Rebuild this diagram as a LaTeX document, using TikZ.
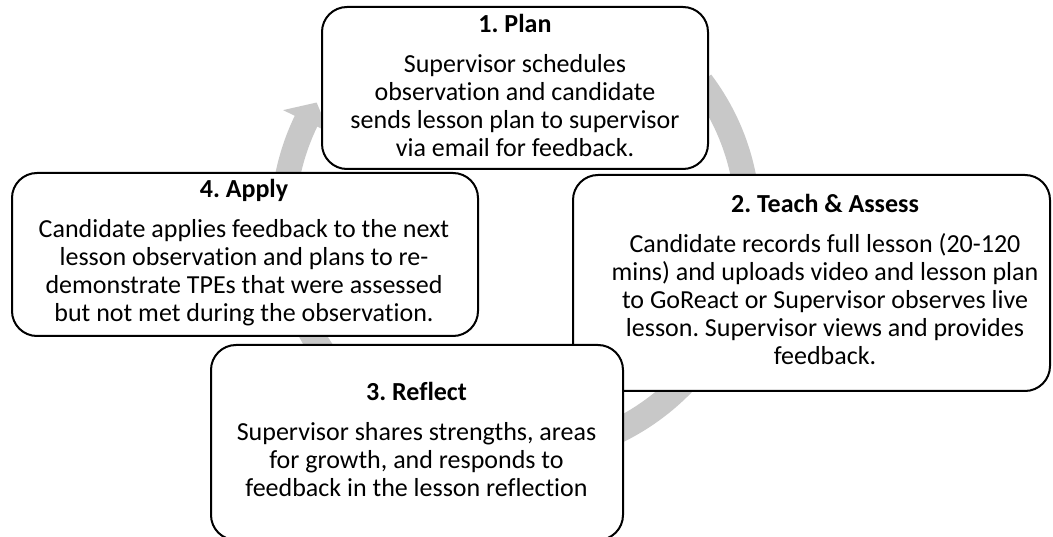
\documentclass[tikz,border=0pt]{standalone}
\usepackage{fontspec}
\setmainfont{Carlito}[Ligatures=NoCommon]
\frenchspacing
\definecolor{cyclegray}{RGB}{200,200,200}
\begin{document}
\begin{tikzpicture}[x=1pt,y=1pt,
  stagebox/.style={draw=black, line width=2pt, fill=white, rounded corners=25pt, inner sep=0pt},
  stagetext/.style={anchor=north, inner sep=0pt, align=center, font=\fontsize{26}{28}\selectfont},
  ]
\path[use as bounding box, clip] (0,0) rectangle (1053,-537);

% circular arrow running clockwise behind the four stages
\fill[cyclegray, shift={(515.5,-222)}]
  (37:245) arc[start angle=37, end angle=-205.7, radius=245]
  -- (-205.7:258) -- (-211:232) -- (-205.7:207) -- (-205.7:220)
  arc[start angle=-205.7, end angle=37, radius=220] -- cycle;

% 1. Plan
\node[stagebox, minimum width=386, minimum height=162] (plan) at (515,-88) {};
\node[stagetext] (plantext) at (515,-12.4)
  {\strut\textbf{1. Plan}\\[12pt]Supervisor schedules\\observation and candidate\\sends lesson plan to supervisor\\via email for feedback.\strut};

% 4. Apply
\node[stagebox, minimum width=466, minimum height=163] (apply) at (245,-254.5) {};
\node[stagetext] (applytext) at (244,-177.4)
  {\strut\textbf{4. Apply}\\[12pt]Candidate applies feedback to the next\\lesson observation and plans to re-\\demonstrate TPEs that were assessed\\but not met during the observation.\strut};

% 2. Teach & Assess
\node[stagebox, minimum width=477, minimum height=216] (teach) at (811.5,-283) {};
\node[stagetext] (teachtext) at (825,-192.4)
  {\strut\textbf{2. Teach \& Assess}\\[12pt]Candidate records full lesson (20-120\\mins) and uploads video and lesson plan\\to GoReact or Supervisor observes live\\lesson. Supervisor views and provides\\feedback.\strut};

% 3. Reflect
\node[stagebox, minimum width=412, minimum height=195] (reflect) at (417,-442.5) {};
\node[stagetext] (reflecttext) at (416.5,-380.4)
  {\strut\textbf{3. Reflect}\\[12pt]Supervisor shares strengths, areas\\for growth, and responds to\\feedback in the lesson reflection\strut};
\end{tikzpicture}
\end{document}
